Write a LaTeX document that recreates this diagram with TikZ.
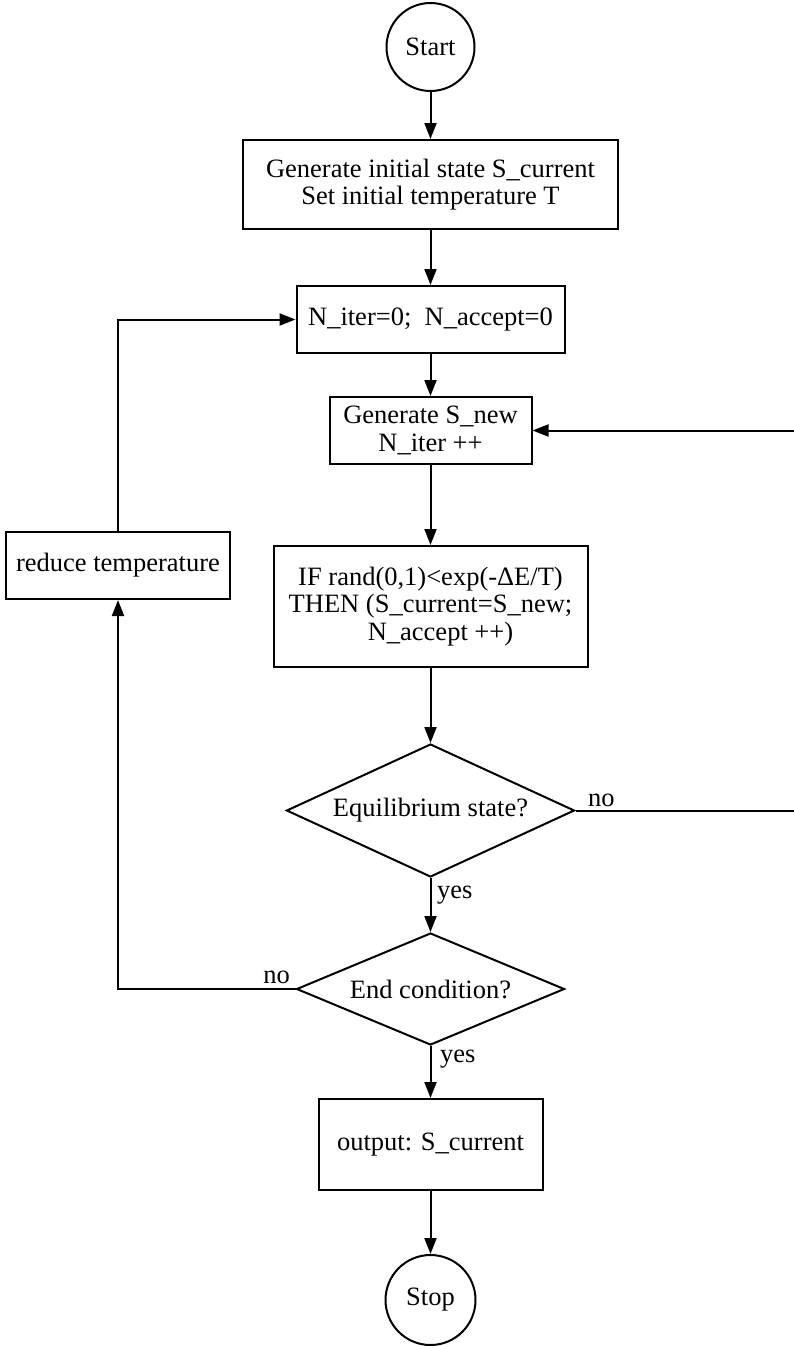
\documentclass[tikz,border=0pt]{standalone}
\usepackage{fontspec}
\setmainfont{Liberation Serif}
\usetikzlibrary{arrows.meta,shapes.geometric}
\begin{document}
\begin{tikzpicture}[x=1pt,y=-1pt,
  every node/.style={font=\fontsize{26.5}{27.5}\selectfont},
  arr/.style={line width=2pt,-{Triangle[length=16pt,width=12pt]}},
  boxnode/.style={draw,line width=2pt,rectangle,align=center,inner sep=0pt},
  circnode/.style={draw,line width=2pt,circle,inner sep=0pt},
  decnode/.style={draw,line width=2pt,diamond,inner sep=0pt,aspect=2.2},
  lbl/.style={inner sep=0pt}]
\useasboundingbox (0,0) rectangle (793,1346);
\node[circnode,minimum size=88pt] (start) at (430.5,47) {Start};
\node[boxnode,minimum width=375pt,minimum height=89pt] (init) at (430.5,184.5) {Generate initial state S\_current\\Set initial temperature T};
\node[boxnode,minimum width=268pt,minimum height=67pt] (reset) at (430.5,319.5) {N\_iter=0;\ \ N\_accept=0};
\node[boxnode,minimum width=202pt,minimum height=67pt] (gen) at (430.5,430.5) {Generate S\_new\\N\_iter ++};
\node[boxnode,minimum width=314pt,minimum height=121pt] (acc) at (430.5,606.5) {IF rand(0,1)<exp(-ΔE/T)\\THEN (S\_current=S\_new;\\\hspace*{20pt}N\_accept ++)};
\node[decnode,minimum width=288pt,minimum height=133pt] (eq) at (430.5,810.5) {Equilibrium state?};
\node[decnode,minimum width=268pt,minimum height=112pt] (endc) at (430.5,989) {End condition?};
\node[boxnode,minimum width=224pt,minimum height=67pt] (reduce) at (118,565.5) {reduce temperature};
\node[boxnode,minimum width=224pt,minimum height=91pt] (out) at (430.5,1144.5) {output: S\_current};
\node[circnode,minimum size=90pt] (stop) at (430.5,1300) {Stop};
\coordinate (rc) at (805,810.5);
\coordinate (lc) at (118,989);
\coordinate (tc) at (118,319.5);
\draw[arr] (start) -- (init);
\draw[arr] (init) -- (reset);
\draw[arr] (reset) -- (gen);
\draw[arr] (gen) -- (acc);
\draw[arr] (acc) -- (eq);
\draw[arr] (eq.south) -- (endc.north);
\draw[arr] (eq.east) -- (rc) |- (gen.east);
\draw[arr] (endc.west) -- (lc) -- (reduce.south);
\draw[arr] (reduce.north) -- (tc) -- (reset.west);
\draw[arr] (endc.south) -- (out.north);
\draw[arr] (out) -- (stop);
\node[lbl,anchor=base west] (noeq) at (588,806) {no};
\node[lbl,anchor=base west] (yeseq) at (437,898) {yes};
\node[lbl,anchor=base east] (noend) at (290,983) {no};
\node[lbl,anchor=base west] (yesend) at (440,1062) {yes};
\end{tikzpicture}
\end{document}
